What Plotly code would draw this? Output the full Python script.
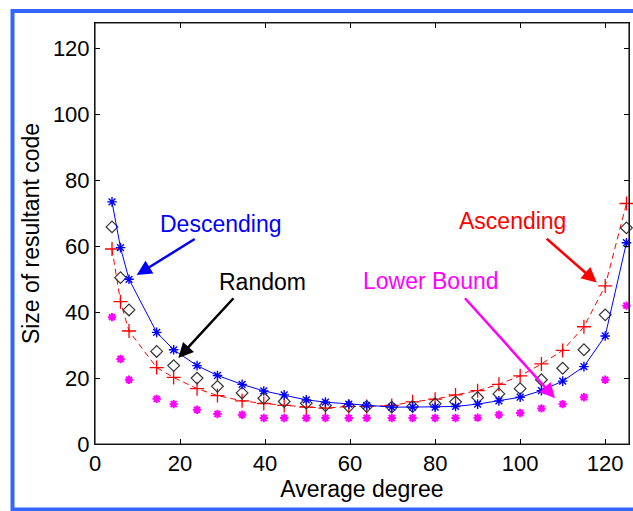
import plotly.graph_objects as go

# ---- data ----
avg_degree = [4, 6, 8, 14.5, 18.5, 24, 28.8, 34.6, 39.7, 44.5, 49.7, 54.2, 59.7, 63.9,
              69.8, 74.7, 80, 84.8, 90, 95, 100, 105, 110, 115, 120, 125]
descending = [73.5, 59.6, 50, 33.9, 28.6, 23.8, 20.8, 18.1, 16.1, 14.9, 13.4, 12.7, 12.1, 11.7,
              11.2, 11.2, 11.2, 11.4, 12.1, 13.1, 14.2, 16.2, 19.1, 23.5, 32.8, 61.1]
ascending = [59.2, 43.2, 34.3, 23.2, 20.2, 16.8, 14.7, 13.1, 12.3, 11.7, 11.2, 10.9, 11.4, 11.4,
             11.7, 12.8, 13.6, 14.9, 16.2, 18.1, 20.7, 24.3, 28.4, 35.6, 48.0, 73.0]
random_order = [65.9, 50.5, 40.7, 28.1, 23.8, 20.0, 17.5, 15.5, 13.9, 12.9, 12.4, 11.7, 11.4, 11.4,
                11.2, 11.4, 12.2, 12.8, 14.1, 15.2, 16.8, 19.5, 23.0, 28.6, 39.2, 65.6]
lower_bound = [38.5, 25.8, 19.5, 13.7, 12.1, 10.4, 9.1, 8.9, 7.9, 7.9, 7.9, 7.9, 7.9, 7.9,
               7.9, 7.9, 7.9, 7.9, 8.0, 8.9, 9.4, 10.8, 12.1, 14.2, 19.5, 42.0]
tick_vals = [0, 20, 40, 60, 80, 100, 120]
x_range = [0, 125.6]
y_range = [0, 127.8]

FONT = "Liberation Sans, Arial, Helvetica, sans-serif"

fig = go.Figure()
fig.add_trace(go.Scatter(x=avg_degree, y=lower_bound, mode="markers", name="Lower Bound",
                         cliponaxis=False,
                         marker=dict(symbol="asterisk-open", size=7, color="#ff00ff",
                                     line=dict(color="#ff00ff", width=2))))
fig.add_trace(go.Scatter(x=avg_degree, y=ascending, mode="lines+markers", name="Ascending",
                         cliponaxis=False,
                         line=dict(color="#ff0000", width=1, dash="6px,4px"),
                         marker=dict(symbol="cross-thin-open", size=10,
                                     line=dict(color="#ff0000", width=1.3))))
fig.add_trace(go.Scatter(x=avg_degree, y=random_order, mode="markers", name="Random",
                         cliponaxis=False,
                         marker=dict(symbol="diamond-open", size=9, color="#333333",
                                     line=dict(color="#333333", width=1.2))))
fig.add_trace(go.Scatter(x=avg_degree, y=descending, mode="lines+markers", name="Descending",
                         cliponaxis=False,
                         line=dict(color="#0000ff", width=1),
                         marker=dict(symbol="asterisk-open", size=8,
                                     line=dict(color="#0000ff", width=1.4))))

labels = [("Descending", 29.6, 66.8, "#0000ff"),
          ("Random", 39.3, 49.2, "#000000"),
          ("Lower Bound", 79.1, 49.5, "#ff00ff"),
          ("Ascending", 98.1, 67.7, "#ff0000")]
for txt, lx, ly, col in labels:
    fig.add_annotation(x=lx, y=ly, text=txt, showarrow=False,
                       font=dict(family=FONT, size=23, color=col))

arrows = [(23.8, 62.5, 9.8, 51.3, "#0000ff"),
          (32.9, 44.7, 19.6, 26.1, "#000000"),
          (86.7, 44.7, 108.2, 13.9, "#ff00ff"),
          (105.9, 62.7, 118.0, 49.0, "#ff0000")]
for tx, ty, hx, hy, col in arrows:
    fig.add_annotation(x=hx, y=hy, ax=tx, ay=ty, xref="x", yref="y", axref="x", ayref="y",
                       text="", showarrow=True, arrowhead=2, arrowsize=1.2, arrowwidth=2.5,
                       arrowcolor=col)

# plot box and blue frame around the figure
fig.add_shape(type="rect", xref="paper", yref="paper", x0=0, x1=1, y0=0, y1=1,
              line=dict(color="#222222", width=1.2), fillcolor="rgba(0,0,0,0)", layer="above")
fig.add_shape(type="rect", xref="paper", yref="paper",
              x0=-0.1545, x1=1.03, y0=-0.1556, y1=1.0285,
              line=dict(color="#3366ff", width=4), fillcolor="rgba(0,0,0,0)", layer="above")

axis_common = dict(showgrid=False, zeroline=False, showline=True, linecolor="black",
                   linewidth=1, mirror="ticks", ticks="inside", ticklen=5,
                   tickcolor="black", tickvals=tick_vals,
                   tickfont=dict(family=FONT, size=22, color="black"))
fig.update_layout(
    width=633, height=511, margin=dict(l=95, r=4, t=23, b=67),
    paper_bgcolor="white", plot_bgcolor="white", showlegend=False,
    xaxis=dict(range=x_range, title=dict(text="Average degree", standoff=0,
               font=dict(family=FONT, size=23, color="black")), **axis_common),
    yaxis=dict(range=y_range, title=dict(text="Size of resultant code", standoff=6,
               font=dict(family=FONT, size=23, color="black")), **axis_common),
)
fig.write_html("out.html", config={"displayModeBar": False},
               post_script="document.body.style.margin='0';"
                           "document.body.style.overflow='hidden';"
                           "document.documentElement.style.overflow='hidden';")
